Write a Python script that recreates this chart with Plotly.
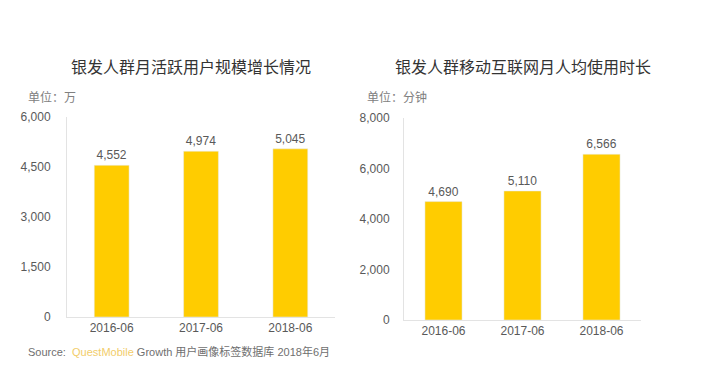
import plotly.graph_objects as go

categories = ["2016-06", "2017-06", "2018-06"]
mau_values = [4552, 4974, 5045]
time_values = [4690, 5110, 6566]
left_ticks = [0, 1500, 3000, 4500, 6000]
right_ticks = [0, 2000, 4000, 6000, 8000]

W, H = 712, 391
BAR = "#FFCC00"
TXT = "#595959"
FONT = "Liberation Sans, Arial, Noto Sans CJK SC"

def px(x):
    return x / W

def py(y):
    return 1 - y / H

fig = go.Figure()
fig.add_trace(go.Bar(x=categories, y=mau_values, marker_color=BAR, width=0.39,
                     texttemplate="%{y:,}", textposition="outside",
                     textfont=dict(size=12, color=TXT), cliponaxis=False,
                     xaxis="x", yaxis="y", showlegend=False))
fig.add_trace(go.Bar(x=categories, y=time_values, marker_color=BAR, width=0.47,
                     texttemplate="%{y:,}", textposition="outside",
                     textfont=dict(size=12, color=TXT), cliponaxis=False,
                     xaxis="x2", yaxis="y2", showlegend=False))

axis_common = dict(showgrid=False, zeroline=False, showline=True, linecolor="#E3E3E3",
                   linewidth=1, automargin=False,
                   tickfont=dict(size=12, color=TXT, family=FONT), fixedrange=True)

fig.update_layout(
    width=W, height=H, autosize=False,
    margin=dict(l=0, r=0, t=0, b=0, pad=0, autoexpand=False),
    paper_bgcolor="white", plot_bgcolor="white",
    showlegend=False,
    font=dict(family=FONT, color=TXT),
    xaxis=dict(domain=[px(67), px(335)], anchor="y", type="category",
               range=[-0.5, 2.5], ticks="", **axis_common),
    yaxis=dict(domain=[py(317), py(117)], anchor="x", range=[0, 6000],
               tickvals=left_ticks, tickformat=",", ticks="outside", ticklen=13,
               tickcolor="rgba(0,0,0,0)", **axis_common),
    xaxis2=dict(domain=[px(404), px(641)], anchor="y2", type="category",
                range=[-0.5, 2.5], ticks="", **axis_common),
    yaxis2=dict(domain=[py(320), py(118)], anchor="x2", range=[0, 8000],
                tickvals=right_ticks, tickformat=",", ticks="outside", ticklen=11,
                tickcolor="rgba(0,0,0,0)", **axis_common),
)

annotations = [
    dict(text="银发人群月活跃用户规模增长情况", x=px(191), y=py(66), xanchor="center", yanchor="middle",
         font=dict(size=16, color="#333333", family="Noto Sans CJK SC")),
    dict(text="银发人群移动互联网月人均使用时长", x=px(523), y=py(66), xanchor="center", yanchor="middle",
         font=dict(size=16, color="#333333", family="Noto Sans CJK SC")),
    dict(text="单位：万", x=px(26), y=py(97), xanchor="left", yanchor="middle",
         font=dict(size=12, color="#808080", family="Noto Sans CJK SC")),
    dict(text="单位：分钟", x=px(365), y=py(97), xanchor="left", yanchor="middle",
         font=dict(size=12, color="#808080", family="Noto Sans CJK SC")),
    dict(text="Source:  <span style='color:#F2CD6A'>QuestMobile</span> Growth 用户画像标签数据库 2018年6月",
         x=px(26), y=py(351), xanchor="left", yanchor="middle",
         font=dict(size=11, color="#6F6F6F", family="Liberation Sans, Noto Sans CJK SC")),
]
for a in annotations:
    a.update(xref="paper", yref="paper", showarrow=False)
fig.update_layout(annotations=annotations)

fig.write_html("out.html", config={"displayModeBar": False},
               post_script="document.body.style.margin='0';")
